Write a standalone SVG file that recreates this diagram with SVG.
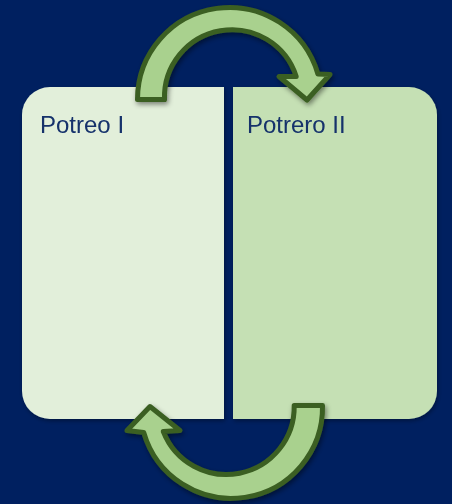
<svg xmlns="http://www.w3.org/2000/svg" width="452" height="504" viewBox="0 0 452 504">
  <defs>
    <filter id="sh" x="-20%" y="-20%" width="140%" height="140%">
      <feDropShadow dx="1.5" dy="2.5" stdDeviation="2.5" flood-color="#000000" flood-opacity="0.45"/>
    </filter>
    <filter id="psh" x="-10%" y="-10%" width="120%" height="120%">
      <feDropShadow dx="1" dy="2" stdDeviation="2" flood-color="#000000" flood-opacity="0.35"/>
    </filter>
  </defs>
  <style>
    .lbl { font-family: "Liberation Sans", Arial, sans-serif; font-size: 24px; fill: #13306B; }
    .arrow { fill: #A9D18E; stroke: #3B5E22; stroke-width: 5; stroke-linejoin: round; filter: url(#sh); }
  </style>
  <rect x="0" y="0" width="452" height="504" fill="#002060"/>
  <g id="potreo-1" filter="url(#psh)">
    <path d="M 224 87 L 50 87 A 28 28 0 0 0 22 115 L 22 391 A 28 28 0 0 0 50 419 L 224 419 Z" fill="#E2EFDA"/>
    <text class="lbl" x="40" y="133">Potreo I</text>
  </g>
  <g id="potrero-2" filter="url(#psh)">
    <path d="M 233 87 L 409 87 A 28 28 0 0 1 437 115 L 437 391 A 28 28 0 0 1 409 419 L 233 419 Z" fill="#C5E0B4"/>
    <text class="lbl" x="247" y="133">Potrero II</text>
  </g>
  <g id="connectors">
    <path class="arrow" d="M 137.5 99.5 A 92 92 0 0 1 317.9 74 L 330 74.5 L 307 100 L 279 76.5 L 296.2 76.5 A 67.5 67.5 0 0 0 164.5 99.5 Z"/>
    <path class="arrow" d="M 322.5 405.5 A 91.2 91.2 0 0 1 143.7 432.5 L 127 430.5 L 150 406.5 L 180 430.5 L 163.3 431.5 A 67.8 67.8 0 0 0 294.2 405.5 Z"/>
  </g>
</svg>
